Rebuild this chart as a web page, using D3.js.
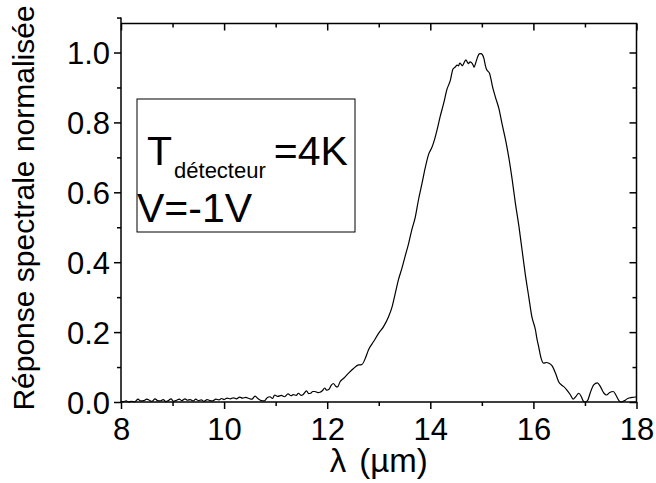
<!DOCTYPE html>
<html><head><meta charset="utf-8">
<script src="https://cdn.jsdelivr.net/npm/d3@7"></script>
<style>
body{margin:0;background:#fff;}
svg{display:block;font-family:Arial,"Liberation Sans",sans-serif;}
</style></head>
<body><svg id="c" width="656" height="483"></svg>
<script>
const wavelength = [8.00,8.05,8.10,8.15,8.20,8.27,8.33,8.38,8.44,8.50,8.55,8.60,8.66,8.71,8.76,8.82,8.87,8.92,8.97,9.02,9.08,9.13,9.18,9.24,9.29,9.34,9.40,9.45,9.50,9.56,9.61,9.67,9.72,9.78,9.84,9.90,9.95,10.00,10.06,10.12,10.18,10.24,10.30,10.36,10.42,10.48,10.54,10.60,10.66,10.72,10.78,10.84,10.89,10.94,10.98,11.04,11.11,11.17,11.24,11.30,11.34,11.40,11.44,11.50,11.53,11.60,11.64,11.68,11.72,11.76,11.82,11.86,11.91,11.95,11.99,12.03,12.08,12.12,12.16,12.20,12.25,12.32,12.41,12.51,12.61,12.67,12.74,12.80,12.90,13.00,13.09,13.19,13.26,13.32,13.38,13.45,13.51,13.58,13.64,13.71,13.77,13.84,13.90,13.97,14.03,14.07,14.13,14.19,14.26,14.32,14.39,14.44,14.48,14.52,14.55,14.57,14.60,14.62,14.66,14.69,14.72,14.74,14.77,14.80,14.83,14.85,14.88,14.92,14.95,14.98,15.01,15.04,15.07,15.09,15.12,15.15,15.18,15.20,15.26,15.33,15.39,15.46,15.52,15.59,15.65,15.72,15.78,15.84,15.91,15.97,16.04,16.07,16.10,16.15,16.20,16.25,16.30,16.36,16.43,16.49,16.55,16.59,16.65,16.72,16.77,16.82,16.88,16.93,16.97,17.00,17.05,17.10,17.17,17.24,17.30,17.37,17.42,17.48,17.55,17.60,17.66,17.70,17.77,17.83,17.92,18.00];
const response = [0.002,0.001,0.003,0.000,0.002,0.001,0.008,0.003,0.004,0.008,0.005,0.002,0.009,0.004,0.003,0.007,0.001,0.004,0.009,0.002,0.005,0.008,0.004,0.009,0.005,0.007,0.003,0.008,0.004,0.006,0.002,0.007,0.004,0.003,0.008,0.006,0.010,0.007,0.011,0.009,0.012,0.009,0.014,0.011,0.013,0.010,0.008,0.017,0.009,0.004,0.003,0.013,0.015,0.010,0.020,0.016,0.019,0.015,0.023,0.018,0.021,0.019,0.025,0.019,0.021,0.032,0.024,0.025,0.030,0.030,0.027,0.028,0.033,0.040,0.034,0.036,0.048,0.053,0.046,0.043,0.058,0.068,0.082,0.096,0.106,0.107,0.125,0.149,0.173,0.197,0.215,0.244,0.273,0.311,0.349,0.383,0.416,0.454,0.492,0.530,0.578,0.626,0.669,0.710,0.728,0.745,0.778,0.816,0.855,0.893,0.921,0.953,0.958,0.964,0.962,0.970,0.966,0.962,0.972,0.979,0.972,0.968,0.973,0.971,0.964,0.958,0.970,0.988,0.996,0.997,0.994,0.983,0.962,0.952,0.946,0.940,0.922,0.907,0.874,0.840,0.797,0.750,0.702,0.635,0.569,0.502,0.435,0.368,0.301,0.244,0.206,0.180,0.160,0.125,0.111,0.113,0.111,0.104,0.082,0.058,0.048,0.044,0.034,0.020,0.008,0.015,0.025,0.015,0.002,0.000,0.004,0.025,0.049,0.055,0.044,0.025,0.020,0.027,0.030,0.020,0.004,0.000,0.004,0.010,0.013,0.015];
const xTicks = [8,10,12,14,16,18];
const xMinor = [9,11,13,15,17];
const yTicks = [0.0,0.2,0.4,0.6,0.8,1.0];
const yMinor = [0.1,0.3,0.5,0.7,0.9,1.1];
const xDomain = [8,18];
const yDomain = [0,1.083];
const xLabel = "λ (µm)";
const yLabel = "Réponse spectrale normalisée";
const legendMain = "T";
const legendSub = "détecteur";
const legendEnd = "=4K";
const legendLine2 = "V=-1V";

const svg = d3.select("#c");
const L=121,R=636.5,T=23.5,B=402;
const x = d3.scaleLinear().domain(xDomain).range([L,R]);
const y = d3.scaleLinear().domain(yDomain).range([B,T]);
const fmt = d3.format(".1f");

const g = svg.append("g");
const stroke = "#000", sw = 1.5;
const botAx = g.append("g").attr("transform",`translate(0,${B})`)
  .call(d3.axisBottom(x).tickValues(xTicks).tickSize(7).tickFormat(d3.format("d")));
g.append("g").attr("transform",`translate(0,${B})`)
  .call(d3.axisBottom(x).tickValues(xMinor).tickSize(4).tickFormat(""));
g.append("g").attr("transform",`translate(0,${T})`)
  .call(d3.axisBottom(x).tickValues(xTicks).tickSize(7).tickFormat(""));
g.append("g").attr("transform",`translate(0,${T})`)
  .call(d3.axisBottom(x).tickValues(xMinor).tickSize(4).tickFormat(""));
const leftAx = g.append("g").attr("transform",`translate(${L},0)`)
  .call(d3.axisLeft(y).tickValues(yTicks).tickSize(7).tickFormat(fmt));
g.append("g").attr("transform",`translate(${L},0)`)
  .call(d3.axisLeft(y).tickValues(yMinor).tickSize(4).tickFormat(""));
g.append("g").attr("transform",`translate(${R},0)`)
  .call(d3.axisRight(y).tickValues(yTicks).tickSize(-7).tickFormat(""));
g.append("g").attr("transform",`translate(${R},0)`)
  .call(d3.axisRight(y).tickValues(yMinor.filter(v=>v<1.08)).tickSize(-4).tickFormat(""));

g.selectAll(".domain").remove();
g.selectAll(".tick line").attr("stroke",stroke).attr("stroke-width",sw);
g.selectAll(".tick text").attr("fill","#000").style("font-size","31px").style("font-family","Arial, 'Liberation Sans', sans-serif");
botAx.selectAll(".tick text").attr("dy",null).attr("y",38);
leftAx.selectAll(".tick text").attr("x",-11).attr("dy","0.36em");
g.append("path").attr("d",`M${L},${y(1.1)}V${B}H${R}V${T}H${L}`)
  .attr("fill","none").attr("stroke",stroke).attr("stroke-width",sw);

const pts = wavelength.map((w,i)=>[w,response[i]]);
svg.append("path").datum(pts)
  .attr("fill","none").attr("stroke","#000").attr("stroke-width",1.2)
  .attr("d",d3.line().x(d=>x(d[0])).y(d=>y(Math.max(0,d[1]))).curve(d3.curveMonotoneX));

svg.append("text").attr("x",(L+R)/2).attr("y",472).attr("text-anchor","middle")
  .style("font-size","33px").style("word-spacing","4px").text(xLabel);
svg.append("text").attr("transform",`translate(34,208) rotate(-90)`).attr("text-anchor","middle")
  .style("font-size","30px").text(yLabel);

svg.append("rect").attr("x",137).attr("y",99).attr("width",218).attr("height",133)
  .attr("fill","none").attr("stroke","#000").attr("stroke-width",1);
const t1 = svg.append("text").attr("x",147).attr("y",165).style("font-size","41px");
t1.append("tspan").text(legendMain);
t1.append("tspan").attr("dy",13).attr("dx",2).style("font-size","22px").text(legendSub);
t1.append("tspan").attr("dy",-13).attr("dx",8).text(legendEnd);
svg.append("text").attr("x",137).attr("y",222).style("font-size","41px").text(legendLine2);
</script></body></html>
